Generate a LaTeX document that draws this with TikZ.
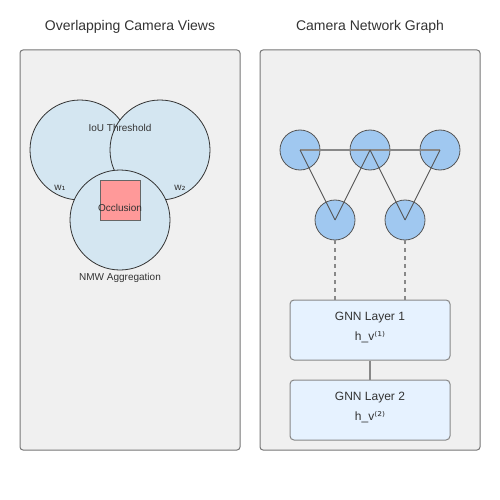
\documentclass[tikz,border=0pt]{standalone}
\usepackage{fontspec}
\setmainfont{Liberation Sans}
\newfontfamily\symfont{DejaVu Sans}
\begin{document}
\begin{tikzpicture}[x=1pt,y=-1pt,
  every node/.style={text=txt,font=\fontsize{10}{12}\selectfont},
  lbl/.style={yshift=-1.5pt},
  panel/.style={draw=panelline,line width=1pt,fill=panelfill,rounded corners=3pt},
  title/.style={lbl,font=\fontsize{14}{16}\selectfont},
  gtext/.style={lbl,font=\fontsize{12}{14}\selectfont},
  view/.style={circle,draw=viewline,line width=0.8pt,fill=viewfill,minimum size=100pt,inner sep=0pt},
  occ/.style={draw=occline,line width=1pt,fill=occfill,minimum size=40pt,inner sep=0pt},
  cam/.style={circle,draw=camline,line width=0.8pt,fill=camfill,minimum size=40pt,inner sep=0pt},
  gnn/.style={draw=gnnline,line width=1pt,fill=gnnfill,rounded corners=4pt,minimum width=160pt,minimum height=60pt,inner sep=0pt},
  edgeh/.style={draw=hline,line width=1.5pt},
  edged/.style={draw=dline,line width=0.9pt},
  dashlink/.style={draw=hline,line width=1.2pt,dash pattern=on 4pt off 4pt},
  link/.style={draw=hline,line width=1.2pt}
]
\definecolor{txt}{HTML}{333333}
\definecolor{panelline}{HTML}{777777}
\definecolor{panelfill}{HTML}{F0F0F0}
\definecolor{viewline}{HTML}{333333}
\definecolor{viewfill}{HTML}{D4E6F1}
\definecolor{occline}{HTML}{666666}
\definecolor{occfill}{HTML}{FF9999}
\definecolor{camline}{HTML}{555555}
\definecolor{camfill}{HTML}{A0C8F0}
\definecolor{gnnline}{HTML}{888888}
\definecolor{gnnfill}{HTML}{E6F2FF}
\definecolor{hline}{HTML}{888888}
\definecolor{dline}{HTML}{555555}
\useasboundingbox[fill=white] (0,0) rectangle (500,500);

% titles
\node[title] (t1) at (130,25) {Overlapping Camera Views};
\node[title] (t2) at (370,25) {Camera Network Graph};

% panels
\path[panel] (20,50) rectangle (240,450);
\path[panel] (260,50) rectangle (480,450);

% left panel
\node[view] (v1) at (80,150) {};
\node[view] (v2) at (160,150) {};
\node[view] (v3) at (120,220) {};
\node[occ] (oc) at (120,200) {};
\node[lbl] (iou) at (120,126) {IoU Threshold};
\node[lbl] (w1) at (60,186) {w{\symfont ₁}};
\node[lbl] (w2) at (180,186) {w{\symfont ₂}};
\node[lbl] (ocl) at (120,206) {Occlusion};
\node[lbl] (nmw) at (120,276) {NMW Aggregation};

% right panel graph
\node[cam] (c1) at (300,150) {};
\node[cam] (c2) at (370,150) {};
\node[cam] (c3) at (440,150) {};
\node[cam] (c4) at (335,220) {};
\node[cam] (c5) at (405,220) {};
\draw[edgeh] (c1.center) -- (c3.center);
\draw[edged] (c1.center) -- (c4.center);
\draw[edged] (c2.center) -- (c4.center);
\draw[edged] (c2.center) -- (c5.center);
\draw[edged] (c3.center) -- (c5.center);

\node[gnn] (g1) at (370,330) {};
\node[gnn] (g2) at (370,410) {};
\node[gtext] (g1a) at (370,316) {GNN Layer 1};
\node[gtext] (g1b) at (370,336) {h\_v{\symfont ⁽¹⁾}};
\node[gtext] (g2a) at (370,396) {GNN Layer 2};
\node[gtext] (g2b) at (370,416) {h\_v{\symfont ⁽²⁾}};

\draw[dashlink] (c4.south) -- (c4.south |- g1.north);
\draw[dashlink] (c5.south) -- (c5.south |- g1.north);
\draw[link] (g1.south) -- (g2.north);
\end{tikzpicture}
\end{document}
